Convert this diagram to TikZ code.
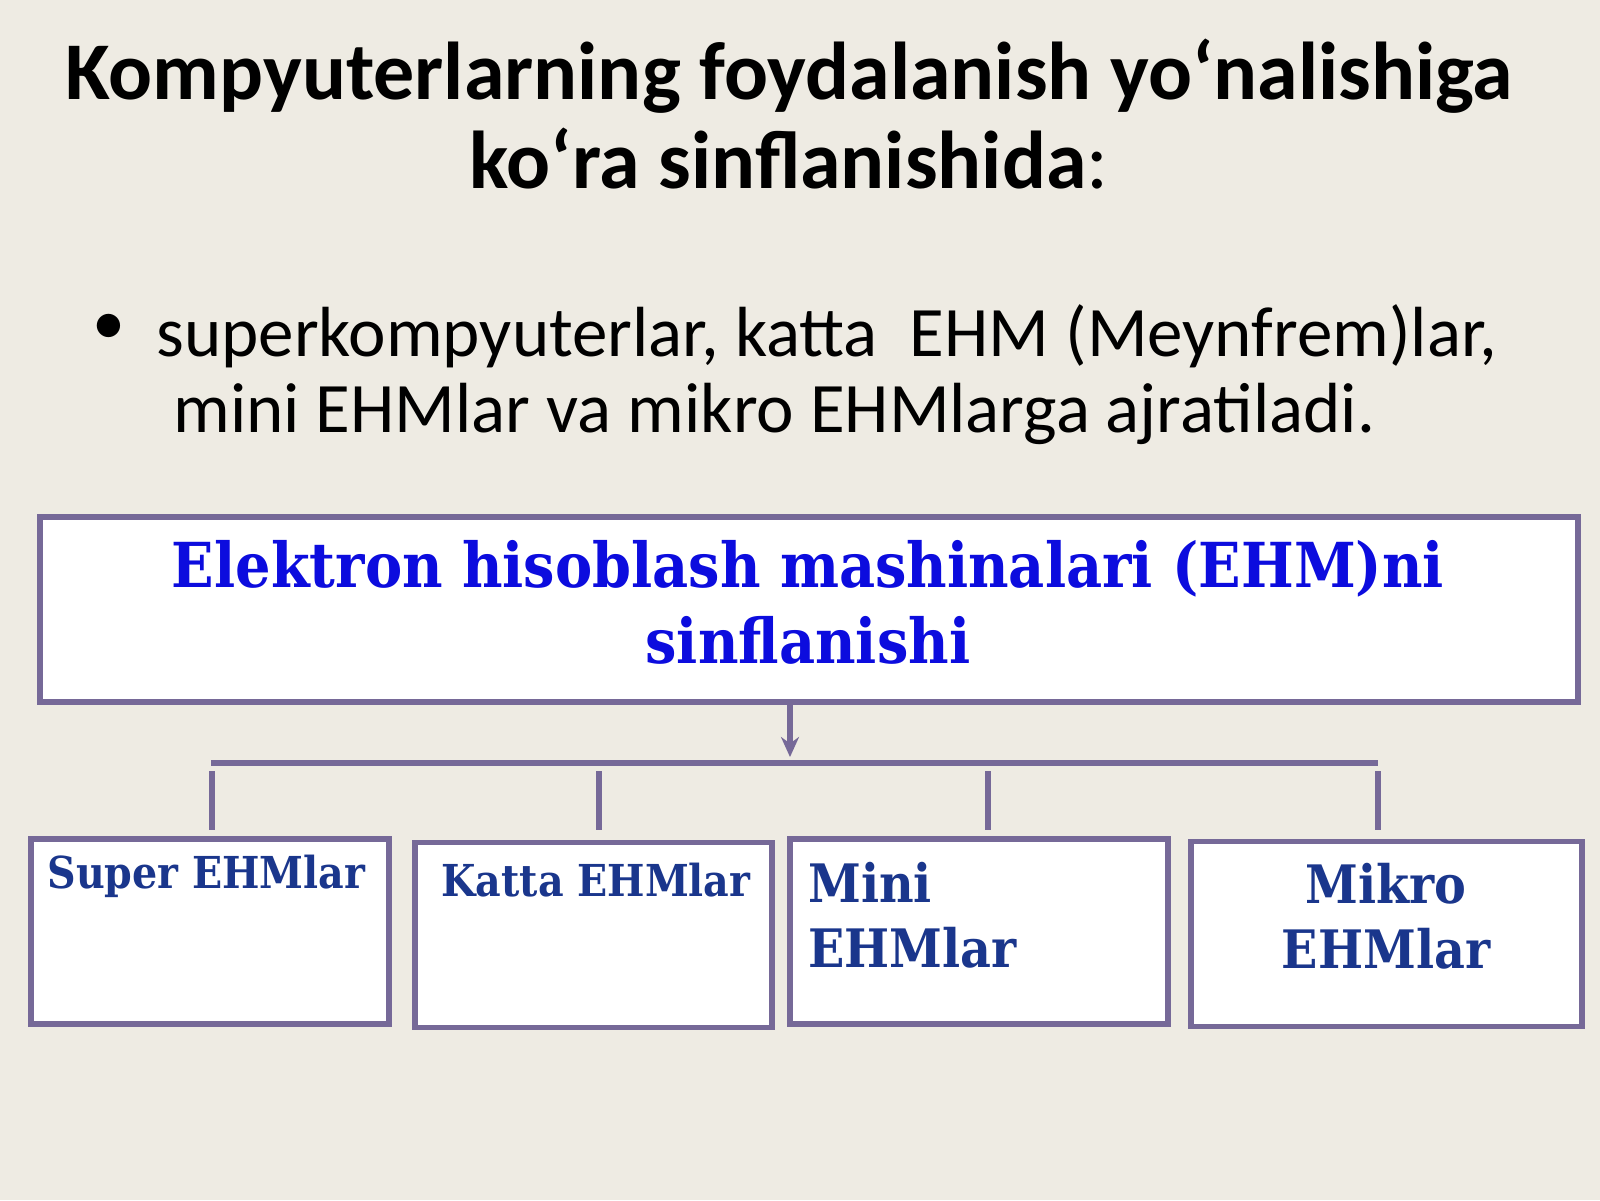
\documentclass[tikz,border=0pt]{standalone}
\usepackage{fontspec}
\setmainfont{Carlito}
\newfontfamily\ehmfont{DejaVu Serif Condensed}
\usepackage{tikz}
\usetikzlibrary{positioning}
\usetikzlibrary{arrows.meta}
\usepackage{xcolor}
\definecolor{paper}{RGB}{238,235,227}
\definecolor{frame}{RGB}{118,105,152}
\definecolor{ehmblue}{RGB}{12,12,222}
\definecolor{navy}{RGB}{26,54,140}

\begin{document}
\begin{tikzpicture}[x=0.5pt,y=-0.5pt,
  mainbox/.style={draw=frame,line width=2.6pt,fill=white,inner sep=0pt,minimum width=769pt,minimum height=92.5pt},
  leafbox/.style={draw=frame,line width=2.6pt,fill=white,inner sep=0pt,minimum height=92.5pt},
  leaftext/.style={text=navy,font=\ehmfont\bfseries\fontsize{22}{32.5}\selectfont,inner sep=0pt},
  bigleaf/.style={text=navy,font=\ehmfont\bfseries\fontsize{26.5}{32.5}\selectfont,inner sep=0pt},
  link/.style={draw=frame,line width=2.6pt}]
\fill[paper](0,0) rectangle (1600,1200);
\useasboundingbox (0,0) rectangle (1600,1200);
% title and bullet
\node[font=\bfseries\fontsize{41}{44.5}\selectfont,align=center] (title) at (789,114)
  {Kompyuterlarning foydalanish yo‘nalishiga\\ko‘ra sinflanishida{\mdseries:}};
\node[font=\fontsize{33}{38}\selectfont] (dot) at (109,329) {•};
\node[font=\fontsize{35.5}{38}\selectfont,align=left,anchor=west,inner sep=0pt] (bullet) at (156,375)
  {superkompyuterlar, katta\ \ EHM (Meynfrem)lar,\\\hspace*{8.5pt}mini EHMlar va mikro EHMlarga ajratiladi.};
% main box
\node[mainbox] (main) at (809,609.5) {};
\node[text=ehmblue,font=\ehmfont\bfseries\fontsize{31}{38}\selectfont,align=center] (maintxt) at (808,602)
  {Elektron hisoblash mashinalari (EHM)ni\\sinflanishi};
% leaf boxes
\node[leafbox,minimum width=179pt] (super) at (210,931.5) {};
\node[leafbox,minimum width=178.5pt] (katta) at (593.5,935) {};
\node[leafbox,minimum width=189pt] (mini) at (979,931.5) {};
\node[leafbox,minimum width=195.5pt] (mikro) at (1386.5,934) {};
\node[leaftext,anchor=west] (supertxt) at (47,876) {Super EHMlar};
\node[leaftext,anchor=west] (kattatxt) at (441,880) {Katta EHMlar};
\node[bigleaf,anchor=north west,align=left] (minitxt) at (808,862) {Mini\\EHMlar};
\node[bigleaf,align=center] (mikrotxt) at (1386,916) {Mikro\\EHMlar};
% connectors
\coordinate (tip) at (790,757);
\coordinate (busl) at (211,763);
\coordinate (busr) at (1378,763);
\draw[link,-{Stealth[length=10pt,width=9pt]}] (main.south -| tip) -- (tip);
\draw[link] (busl) -- (busr);
\foreach \x/\b in {212/super,599/katta,988/mini,1378/mikro}{
  \coordinate (up-\b) at (\x,771);
  \coordinate (dn-\b) at (\x,830);
  \draw[link] (up-\b) -- (dn-\b);
}
\end{tikzpicture}
\end{document}
